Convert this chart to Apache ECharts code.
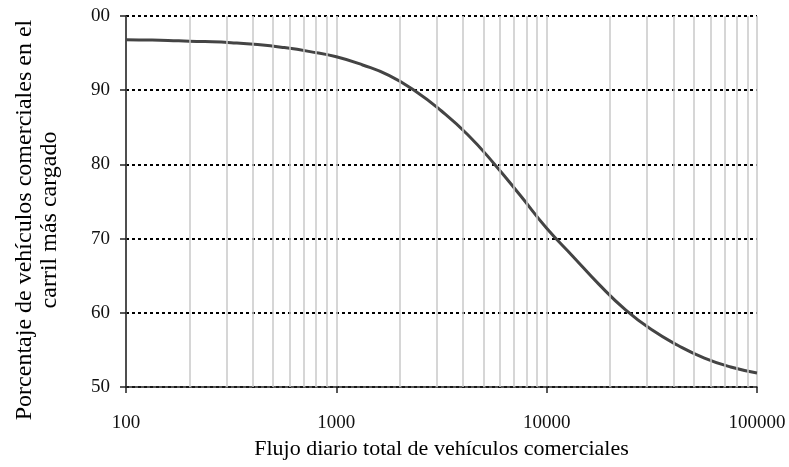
<!DOCTYPE html>
<html>
<head>
<meta charset="utf-8">
<script src="https://cdn.jsdelivr.net/npm/echarts@6/dist/echarts.min.js"></script>
<style>
html,body{margin:0;padding:0;background:#fff;}
#c{width:789px;height:467px;}
</style>
</head>
<body>
<div id="c"></div>
<script>
// Data
var flowValues = [100, 133, 178, 237, 316, 422, 562, 750, 1000, 1334, 1778, 2371, 3162, 4217, 5623, 7499, 10000, 13335, 17783, 23714, 31623, 42170, 56234, 74989, 100000];
var percentValues = [96.8, 96.75, 96.65, 96.55, 96.4, 96.15, 95.75, 95.2, 94.5, 93.4, 92.0, 89.9, 87.2, 84.0, 80.1, 75.8, 71.4, 67.6, 63.8, 60.4, 57.7, 55.6, 53.9, 52.7, 51.9];
var minorGridValues = [200, 300, 400, 500, 600, 700, 800, 900, 2000, 3000, 4000, 5000, 6000, 7000, 8000, 9000, 20000, 30000, 40000, 50000, 60000, 70000, 80000, 90000];
var xTickLabels = {100: '100', 1000: '1000', 10000: '10000', 100000: '100000'};
var yTickLabels = ['50', '60', '70', '80', '90', '00'];
var xTitle = 'Flujo diario total de vehículos comerciales';
var yTitleLines = ['Porcentaje de vehículos comerciales en el', 'carril más cargado'];

var FONT = '"Liberation Serif", "DejaVu Serif", serif';
var chart = echarts.init(document.getElementById('c'), null, {renderer: 'canvas'});

var linePoints = flowValues.map(function (x, i) { return [x, percentValues[i]]; });

chart.setOption({
  animation: false,
  backgroundColor: '#ffffff',
  grid: {left: 126, right: 32, top: 16, bottom: 80, containLabel: false},
  xAxis: {
    type: 'log',
    logBase: 10,
    min: 100,
    max: 100000,
    name: xTitle,
    nameLocation: 'middle',
    nameGap: 50,
    nameTextStyle: {fontFamily: FONT, fontSize: 22, color: '#000'},
    axisLine: {show: true, onZero: false, lineStyle: {color: '#222', width: 1.5}},
    axisTick: {show: true, length: 6, lineStyle: {color: '#222', width: 1.5}},
    axisLabel: {
      margin: 27,
      fontFamily: FONT, fontSize: 19, color: '#111',
      formatter: function (v) { var r = Math.round(v); return xTickLabels[r] || ''; }
    },
    splitLine: {show: true, lineStyle: {color: '#c8c8c8', width: 1.5}},
    minorTick: {show: false},
    minorSplitLine: {show: false}
  },
  yAxis: {
    type: 'value',
    min: 50,
    max: 100,
    interval: 10,
    axisLine: {show: true, lineStyle: {color: '#222', width: 1.5}},
    axisTick: {show: true, length: 6, lineStyle: {color: '#222', width: 1.5}},
    axisLabel: {
      margin: 16,
      fontFamily: FONT, fontSize: 19, color: '#111',
      formatter: function (v) { return yTickLabels[Math.round((v - 50) / 10)]; }
    },
    splitLine: {show: true, lineStyle: {color: '#000', width: 2, type: [3, 3]}}
  },
  graphic: [
    {
      type: 'text',
      x: 37,
      y: 220,
      rotation: Math.PI / 2,
      style: {
        text: yTitleLines.join('\n'),
        font: '24px ' + FONT,
        fill: '#000',
        align: 'center',
        verticalAlign: 'middle',
        lineHeight: 25
      }
    }
  ],
  series: [
    {
      type: 'line',
      data: [],
      silent: true,
      z: 1,
      markLine: {
        silent: true,
        symbol: 'none',
        label: {show: false},
        lineStyle: {color: '#c8c8c8', width: 1.5, type: 'solid'},
        data: minorGridValues.map(function (v) { return {xAxis: v}; })
      }
    },
    {
      type: 'line',
      data: linePoints,
      smooth: 0.5,
      symbol: 'none',
      z: 3,
      lineStyle: {color: '#444', width: 3}
    }
  ]
});
</script>
</body>
</html>
